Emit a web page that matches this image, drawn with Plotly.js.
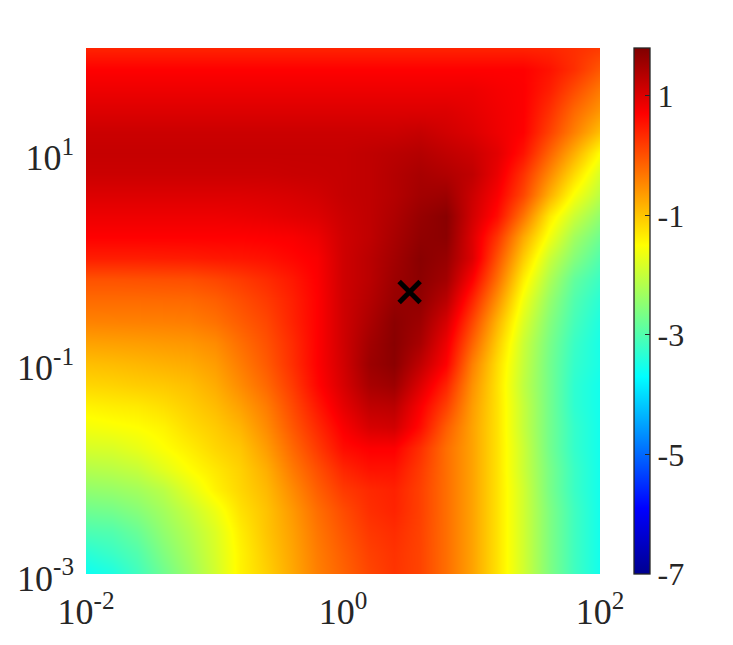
<!DOCTYPE html>
<html>
<head>
<meta charset="utf-8">
<script src="https://cdn.plot.ly/plotly-3.0.1.min.js"></script>
<style>html,body{margin:0;padding:0;background:#fff}</style>
</head>
<body>
<div id="plot" style="width:733px;height:645px"></div>
<script>
// grid positions, exponents of ten
var log_x=[-2,-1.8,-1.6,-1.4,-1.2,-1,-0.8,-0.6,-0.4,-0.2,0,0.2,0.4,0.6,0.8,1,1.2,1.4,1.6,1.8,2];
var log_y=[-3,-2.8,-2.6,-2.4,-2.2,-2,-1.8,-1.6,-1.4,-1.2,-1,-0.8,-0.6,-0.4,-0.2,0,0.2,0.4,0.6,0.8,1,1.2,1.4,1.6,1.8,2];

// values, first row is the bottom one
var z_values=[
[-3.6,-3.45,-3.15,-2.75,-2.35,-1.9,-1.4,-1.1,-.75,-.4,-.15,.1,.25,.12,-.25,-.7,-1.25,-1.9,-2.6,-3.15,-3.55],
[-3.35,-3.2,-3,-2.6,-2.25,-1.85,-1.4,-1.05,-.72,-.37,-.1,.15,.27,.12,-.25,-.7,-1.25,-1.9,-2.6,-3.15,-3.55],
[-3.05,-3,-2.8,-2.45,-2.15,-1.8,-1.35,-1,-.68,-.32,-.03,.22,.32,.13,-.25,-.7,-1.25,-1.9,-2.6,-3.15,-3.55],
[-2.75,-2.7,-2.55,-2.3,-2,-1.65,-1.25,-.98,-.62,-.25,.05,.3,.4,.15,-.25,-.7,-1.25,-1.9,-2.6,-3.15,-3.55],
[-2.45,-2.4,-2.3,-2.1,-1.75,-1.4,-1.15,-.9,-.5,-.12,.2,.35,.42,.15,-.25,-.7,-1.25,-1.9,-2.65,-3.2,-3.55],
[-2.15,-2.1,-2,-1.75,-1.5,-1.3,-1.1,-.8,-.35,.02,.38,.55,.55,.2,-.25,-.7,-1.25,-1.95,-2.65,-3.2,-3.55],
[-1.85,-1.82,-1.7,-1.52,-1.35,-1.15,-1,-.65,-.2,.2,.6,.72,.72,.3,-.25,-.7,-1.25,-1.95,-2.7,-3.25,-3.55],
[-1.6,-1.55,-1.5,-1.4,-1.2,-1.05,-.85,-.5,-.05,.35,.75,1.05,1.1,.6,-.1,-.7,-1.25,-2,-2.7,-3.25,-3.55],
[-1.4,-1.35,-1.32,-1.22,-1.08,-.92,-.68,-.37,.07,.5,.92,1.25,1.3,.75,.15,-.65,-1.25,-2,-2.7,-3.3,-3.55],
[-1.15,-1.12,-1.07,-1.03,-.95,-.78,-.5,-.2,.2,.65,1.05,1.45,1.55,1,.4,-.55,-1.25,-2.05,-2.7,-3.3,-3.55],
[-.95,-.92,-.88,-.83,-.78,-.65,-.37,-.08,.3,.7,1.1,1.55,1.7,1.25,.7,-.4,-1.2,-2,-2.7,-3.25,-3.5],
[-.7,-.68,-.66,-.63,-.6,-.5,-.25,0,.33,.7,1.12,1.5,1.72,1.45,.85,-.15,-1.05,-1.95,-2.65,-3.2,-3.5],
[-.43,-.42,-.41,-.4,-.38,-.28,-.1,.09,.4,.7,1.12,1.42,1.7,1.55,1.05,.1,-.85,-1.8,-2.55,-3.1,-3.45],
[-.22,-.22,-.22,-.21,-.2,-.12,.03,.2,.43,.7,1.12,1.35,1.6,1.65,1.3,.4,-.55,-1.6,-2.4,-3,-3.35],
[0,0,.01,.02,.03,.1,.2,.33,.5,.72,1.12,1.3,1.55,1.7,1.5,.72,-.25,-1.35,-2.2,-2.85,-3.2],
[.45,.45,.45,.46,.47,.5,.52,.56,.65,.75,1.12,1.3,1.5,1.72,1.6,1,0,-1.05,-1.95,-2.55,-3],
[.7,.7,.7,.7,.7,.7,.7,.72,.75,.85,1.12,1.25,1.45,1.65,1.7,1,.25,-.75,-1.6,-2.3,-2.75],
[.85,.85,.85,.85,.85,.85,.87,.9,.95,1,1.15,1.25,1.4,1.6,1.72,1.1,.6,-.3,-1.3,-1.95,-2.45],
[1,1,1,1,1,1,1,1.02,1.05,1.1,1.2,1.25,1.35,1.5,1.55,1.15,.75,.1,-.8,-1.55,-2.1],
[1.15,1.15,1.15,1.15,1.15,1.15,1.15,1.15,1.17,1.18,1.2,1.25,1.35,1.45,1.38,1.25,.88,.28,-.47,-1.18,-1.85],
[1.2,1.2,1.2,1.2,1.2,1.2,1.2,1.2,1.2,1.2,1.2,1.25,1.3,1.35,1.25,1.15,.95,.55,-.15,-.8,-1.5],
[1.15,1.15,1.15,1.15,1.15,1.15,1.15,1.15,1.15,1.15,1.15,1.15,1.15,1.2,1.1,1,.85,.7,.15,-.4,-.95],
[1,1,1,1,1,1,1,1,1,1,1,1,1,1,1,.92,.82,.72,.3,-.2,-.6],
[.85,.85,.85,.85,.85,.85,.85,.85,.85,.85,.85,.85,.85,.85,.85,.85,.78,.72,.45,.05,-.35],
[.7,.7,.7,.7,.7,.7,.7,.7,.7,.7,.7,.7,.7,.7,.7,.7,.7,.7,.55,.3,-.05],
[.4,.4,.4,.4,.4,.4,.4,.4,.4,.4,.4,.4,.4,.4,.4,.4,.4,.4,.38,.3,.2]
];

var x_ticks=[0.01,1,100];
var x_ticklabels=['10<sup>-2</sup>','10<sup>0</sup>','10<sup>2</sup>'];
var y_ticks=[0.001,0.1,10];
var y_ticklabels=['10<sup>-3</sup>','10<sup>-1</sup>','10<sup>1</sup>'];
var cbar_ticks=[1,-1,-3,-5,-7];
var cbar_ticklabels=['1','-1','-3','-5','-7'];

var best_x=[3.3];
var best_y=[0.48];

var jet=[[0,'#00008f'],[0.125,'#0000ff'],[0.375,'#00ffff'],[0.625,'#ffff00'],[0.875,'#ff0000'],[1,'#800000']];
var text_color='#262626';

var trace1={
    type:'heatmap',
    x:log_x.map(function(v){return Math.pow(10,v)}),
    y:log_y.map(function(v){return Math.pow(10,v)}),
    z:z_values,
    zmin:-7,
    zmax:1.8,
    zsmooth:'best',
    colorscale:jet,
    hoverinfo:'skip',
    colorbar:{
        thickness:16,thicknessmode:'pixels',
        len:1,lenmode:'fraction',
        x:1.067,xanchor:'left',xpad:0,
        y:0.5,yanchor:'middle',ypad:0,
        outlinecolor:text_color,outlinewidth:1.3,
        tickmode:'array',tickvals:cbar_ticks,ticktext:cbar_ticklabels,
        ticks:'inside',ticklen:5,tickwidth:1,tickcolor:text_color,
        tickfont:{family:'Liberation Serif',size:32,color:text_color}
    }
};

var trace2={
    type:'scatter',mode:'markers',x:best_x,y:best_y,
    marker:{symbol:'x-thin',size:21,color:'#000000',line:{color:'#000000',width:5}},
    hoverinfo:'skip',showlegend:false
};

var layout={
    width:733,height:645,
    margin:{l:86,r:133,t:48,b:71},
    paper_bgcolor:'#ffffff',plot_bgcolor:'#ffffff',
    font:{family:'Liberation Serif',color:text_color},
    showlegend:false,
    xaxis:{type:'log',range:[-2,2],tickmode:'array',tickvals:x_ticks,ticktext:x_ticklabels,
        ticks:'',showgrid:false,zeroline:false,showline:false,tickangle:0,ticklabelstandoff:13,
        tickfont:{family:'Liberation Serif',size:36,color:text_color}},
    yaxis:{type:'log',range:[-3,2],tickmode:'array',tickvals:y_ticks,ticktext:y_ticklabels,
        ticks:'',showgrid:false,zeroline:false,showline:false,tickangle:0,ticklabelstandoff:11,ticklabelshift:4,
        tickfont:{family:'Liberation Serif',size:36,color:text_color}}
};

Plotly.newPlot('plot',[trace1,trace2],layout,{displayModeBar:false,staticPlot:true});
</script>
</body>
</html>
